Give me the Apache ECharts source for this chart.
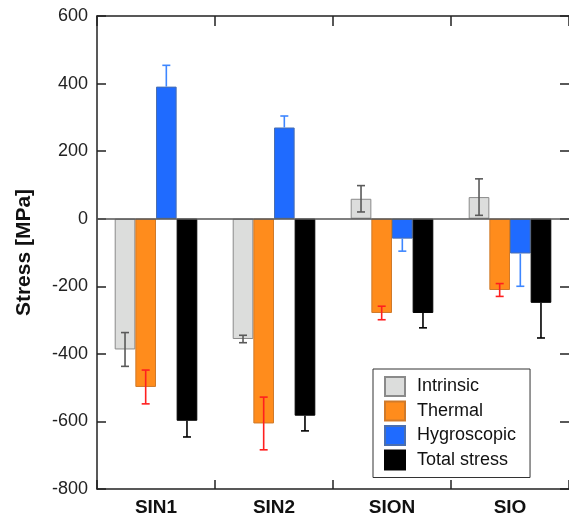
<!DOCTYPE html>
<html>
<head>
<meta charset="utf-8">
<script src="https://cdn.jsdelivr.net/npm/echarts@6/dist/echarts.min.js"></script>
<style>
html,body{margin:0;padding:0;background:#fff;}
#chart{width:569px;height:519px;}
</style>
</head>
<body>
<div id="chart"></div>
<script>
const categories = ['SIN1', 'SIN2', 'SION', 'SIO'];
const yTicks = [-800, -600, -400, -200, 0, 200, 400, 600];
const seriesNames = ['Intrinsic', 'Thermal', 'Hygroscopic', 'Total stress'];
const intrinsic = [-387, -356, 59, 64];
const intrinsicErr = [50, 11, 39, 54];
const thermal = [-498, -606, -279, -211];
const thermalErr = [50, 78, 20, 19];
const hygroscopic = [391, 270, -59, -103];
const hygroscopicErr = [63, 34, 37, 97];
const total = [-598, -583, -279, -249];
const totalErr = [48, 45, 44, 104];

const FONT = 'Liberation Sans, Arial, Helvetica, sans-serif';
const values = [intrinsic, thermal, hygroscopic, total];
const errors = [intrinsicErr, thermalErr, hygroscopicErr, totalErr];
const fills = ['#dcdddc', '#ff8c1c', '#1f6bff', '#000000'];
const borders = ['#8a8a8a', '#d07a2a', '#4a6fb0', '#000000'];
const errColors = ['#5a5a5a', '#ff1f1f', '#3d86ff', '#000000'];
const twoSided = [true, true, false, false];
const nSeries = 4;
const catGap = 0.3;

const barSeries = values.map((vals, s) => ({
  name: seriesNames[s],
  type: 'bar',
  data: vals,
  barGap: '0%',
  barCategoryGap: '30%',
  itemStyle: { color: fills[s], borderColor: borders[s], borderWidth: 1 },
  emphasis: { disabled: true },
  z: 2
}));

barSeries[0].markLine = {
  silent: true,
  symbol: 'none',
  label: { show: false },
  lineStyle: { color: '#555', width: 1.5, type: 'solid' },
  data: [{ yAxis: 0 }],
  z: 5
};

const errSeries = values.map((vals, s) => ({
  name: 'err-' + seriesNames[s],
  type: 'custom',
  z: 4,
  silent: true,
  encode: { x: 0, y: 1 },
  data: vals.map((v, i) => [i, v, errors[s][i]]),
  renderItem: function (params, api) {
    const idx = api.value(0);
    const v = api.value(1);
    const e = api.value(2);
    const band = api.size([1, 0])[0];
    const bw = band * (1 - catGap) / nSeries;
    const base = api.coord([idx, v]);
    const x = base[0] + (s - (nSeries - 1) / 2) * bw;
    const yv = base[1];
    const yHi = api.coord([idx, v + e])[1];
    const yLo = api.coord([idx, v - e])[1];
    const cap = 4;
    const style = { stroke: errColors[s], lineWidth: 1.6, fill: null };
    const children = [];
    let y1, y2, caps;
    if (twoSided[s]) {
      y1 = yHi; y2 = yLo; caps = [yHi, yLo];
    } else if (v >= 0) {
      y1 = yv; y2 = yHi; caps = [yHi];
    } else {
      y1 = yv; y2 = yLo; caps = [yLo];
    }
    children.push({ type: 'line', shape: { x1: x, y1: y1, x2: x, y2: y2 }, style: style });
    caps.forEach(cy => children.push({ type: 'line', shape: { x1: x - cap, y1: cy, x2: x + cap, y2: cy }, style: style }));
    return { type: 'group', children: children };
  }
}));

const axisLineStyle = { color: '#222', width: 1.5 };

const option = {
  animation: false,
  backgroundColor: '#fff',
  grid: { left: 97, top: 16, width: 473, height: 473 },
  legend: {
    data: seriesNames,
    orient: 'vertical',
    left: 373,
    top: 369,
    itemWidth: 20,
    itemHeight: 19,
    itemGap: 3.5,
    padding: [7, 14, 7, 11],
    borderColor: '#333',
    borderWidth: 1,
    backgroundColor: '#fff',
    selectedMode: false,
    icon: 'rect',
    textStyle: { fontFamily: FONT, fontSize: 18, color: '#111', padding: [0, 0, 0, 7] }
  },
  xAxis: [
    {
      type: 'category',
      data: categories,
      position: 'bottom',
      boundaryGap: true,
      axisLine: { show: true, onZero: false, lineStyle: axisLineStyle },
      axisTick: { show: true, inside: true, length: 9, lineStyle: axisLineStyle },
      axisLabel: { fontFamily: FONT, fontSize: 19, fontWeight: 'bold', color: '#111', margin: 9 },
      splitLine: { show: false }
    },
    {
      type: 'category',
      data: categories,
      position: 'top',
      boundaryGap: true,
      axisLine: { show: true, onZero: false, lineStyle: axisLineStyle },
      axisTick: { show: true, inside: true, length: 10, lineStyle: axisLineStyle },
      axisLabel: { show: false },
      splitLine: { show: false }
    }
  ],
  yAxis: [
    {
      type: 'value',
      min: yTicks[0],
      max: yTicks[yTicks.length - 1],
      interval: 200,
      position: 'left',
      name: 'Stress [MPa]',
      nameLocation: 'middle',
      nameGap: 62,
      nameTextStyle: { fontFamily: FONT, fontSize: 21, fontWeight: 'bold', color: '#111' },
      axisLine: { show: true, onZero: false, lineStyle: axisLineStyle },
      axisTick: { show: true, inside: true, length: 9, lineStyle: axisLineStyle },
      axisLabel: { fontFamily: FONT, fontSize: 18, color: '#222', margin: 9 },
      splitLine: { show: false }
    },
    {
      type: 'value',
      min: yTicks[0],
      max: yTicks[yTicks.length - 1],
      interval: 200,
      position: 'right',
      axisLine: { show: false, onZero: false, lineStyle: axisLineStyle },
      axisTick: { show: true, inside: true, length: 9, lineStyle: axisLineStyle },
      axisLabel: { show: false },
      splitLine: { show: false }
    }
  ],
  series: barSeries.concat(errSeries)
};

const chart = echarts.init(document.getElementById('chart'), null, { renderer: 'canvas' });
chart.setOption(option);
</script>
</body>
</html>
